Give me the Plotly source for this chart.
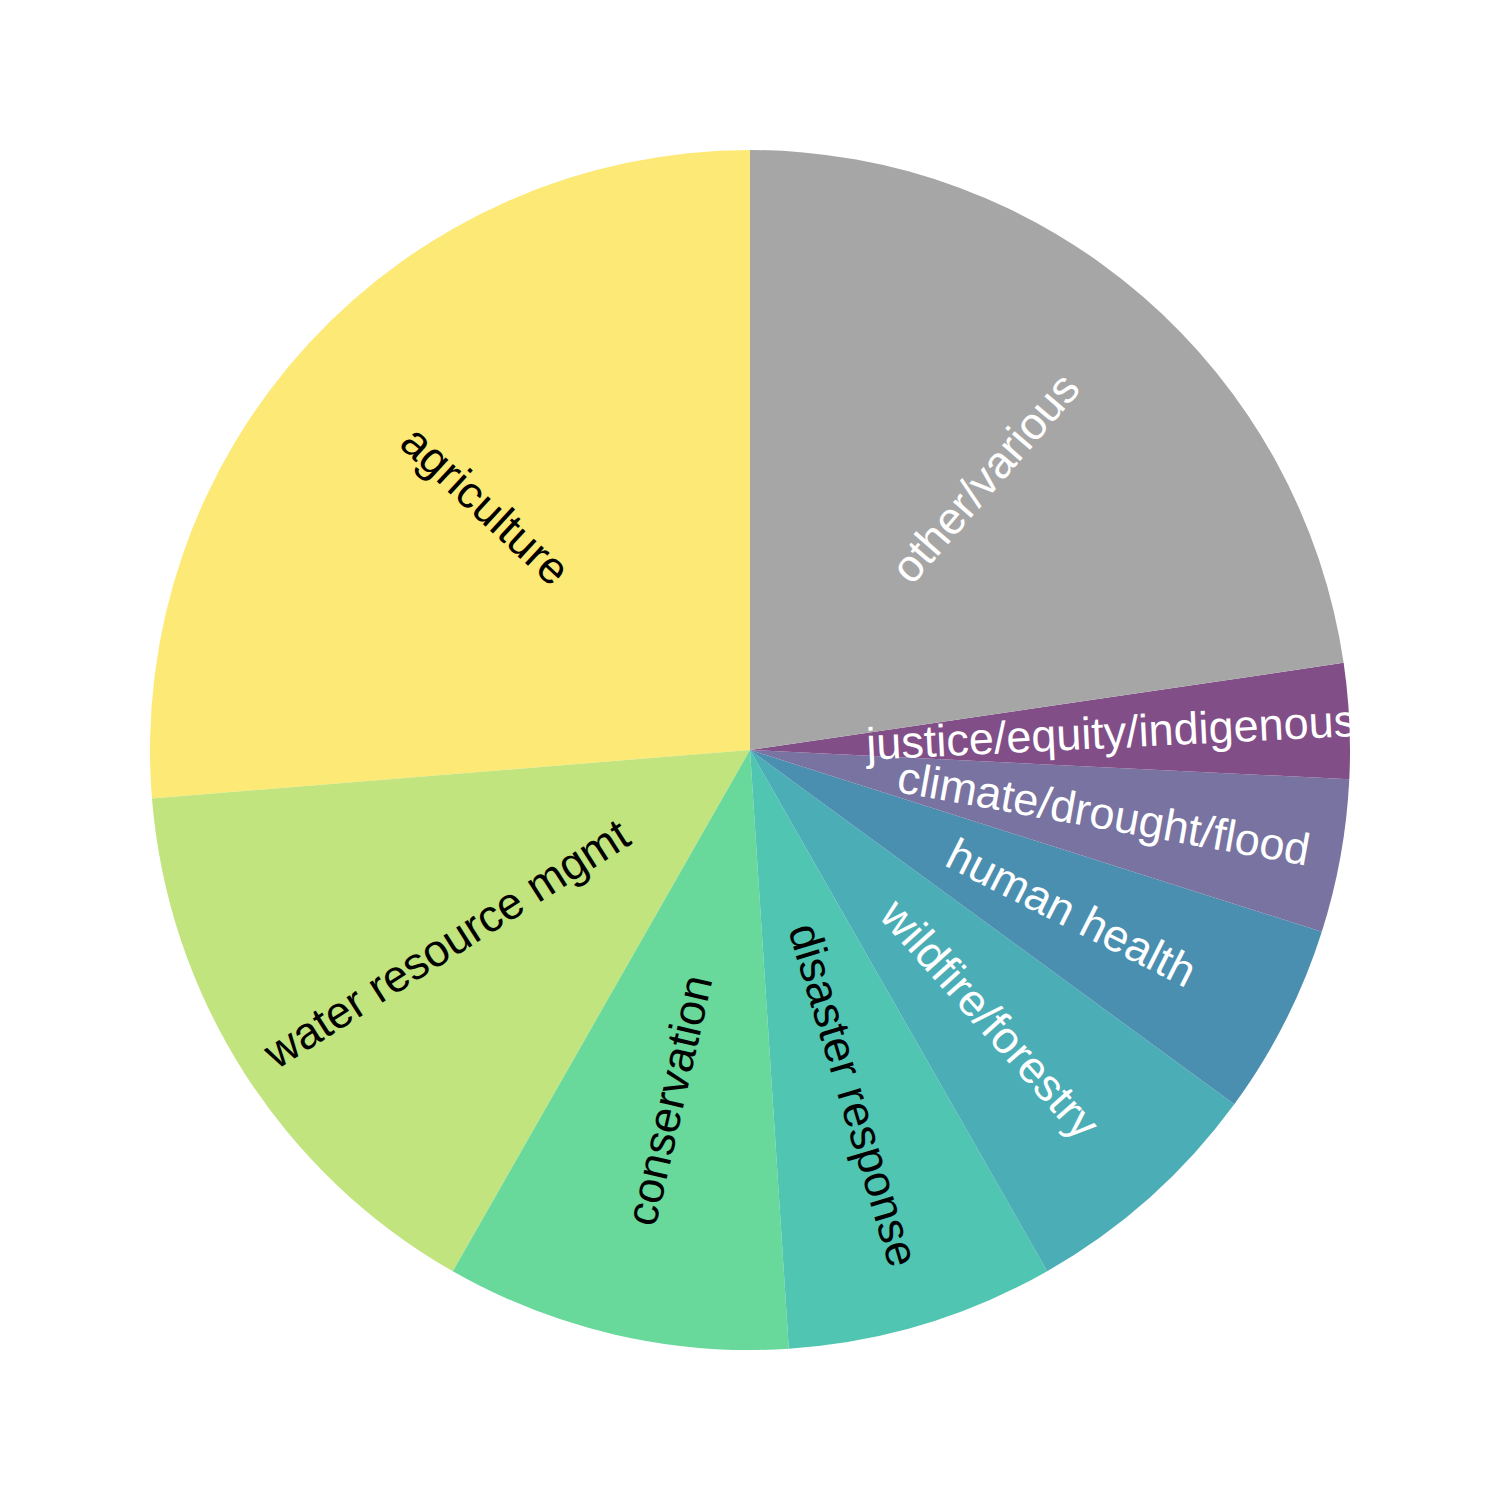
import numpy as np
import plotly.graph_objects as go

categories = ["agriculture", "water resource mgmt", "conservation", "disaster response",
              "wildfire/forestry", "human health", "climate/drought/flood",
              "justice/equity/indigenous", "other/various"]
counts = [51, 30, 18, 14, 13, 10, 8, 6, 44]
colors = ["#FDE976", "#C1E47E", "#69D89B", "#50C5B1", "#4BADB6",
          "#4A8FB0", "#7873A1", "#814E87", "#A6A6A6"]
text_colors = ["black", "black", "black", "black", "white",
               "white", "white", "white", "white"]

W = H = 1500
M = 150
vals = np.array(counts, dtype=float)
frac = vals / vals.sum()

# plotly's counterclockwise pies put the first slice clockwise of the start;
# rotate so the first slice starts at 12 o'clock and runs counterclockwise
fig = go.Figure(go.Pie(
    labels=categories, values=counts, sort=False, direction="counterclockwise",
    rotation=-360 * frac[0], marker=dict(colors=colors, line=dict(width=0)),
    textinfo="none", hoverinfo="label+value", showlegend=False,
))

# radial labels at 0.6 of the radius, centred on each slice's mid-angle
cum = np.cumsum(frac) - frac / 2
R_frac = 0.6 * 0.5  # pie radius is half the plot area (paper units)
for lab, f, tc in zip(categories, cum, text_colors):
    theta = np.deg2rad(90 + 360 * f)
    x = 0.5 + R_frac * np.cos(theta)
    y = 0.5 + R_frac * np.sin(theta)
    rot = np.rad2deg(theta) + (0 if np.cos(theta) > 0 else 180)
    fig.add_annotation(x=x, y=y, xref="paper", yref="paper", text=lab,
                       showarrow=False, textangle=-rot,
                       font=dict(family="Liberation Sans, Arial", size=45, color=tc),
                       xanchor="center", yanchor="middle")

fig.update_layout(width=W, height=H, margin=dict(l=M, r=M, t=M, b=M),
                  paper_bgcolor="white", plot_bgcolor="white")
fig.write_html("out.html")
